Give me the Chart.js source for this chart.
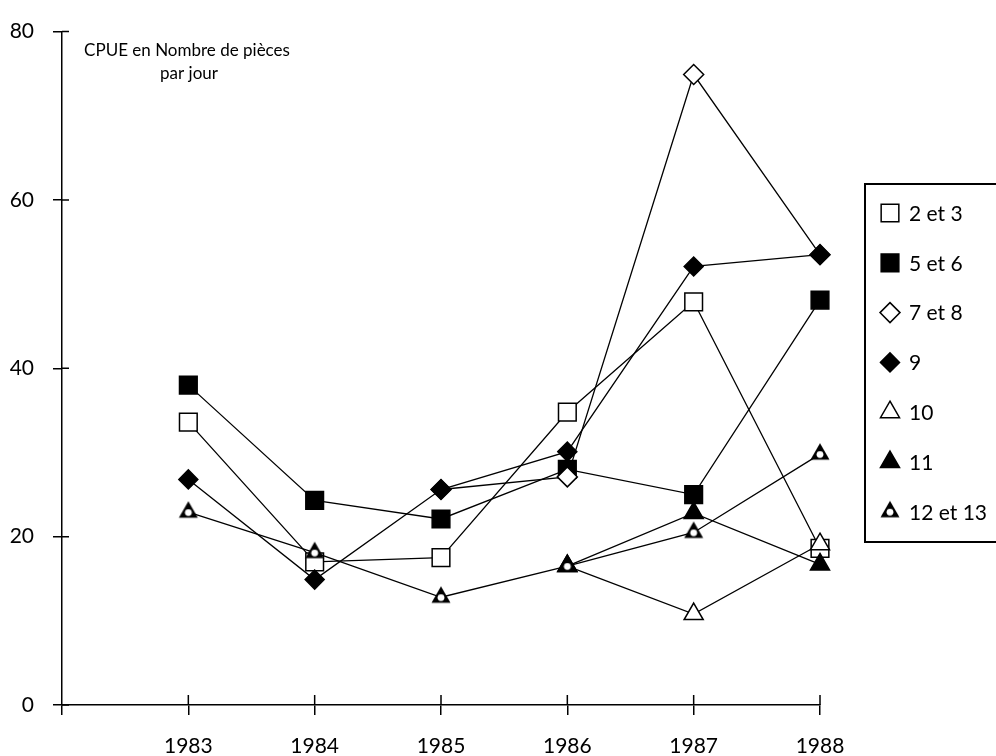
<!DOCTYPE html>
<html>
<head>
<meta charset="utf-8">
<script src="https://cdn.jsdelivr.net/npm/chart.js@4.4.0/dist/chart.umd.min.js"></script>
<style>
  body { margin: 0; background: #fff; }
  canvas { display: block; }
</style>
</head>
<body>
<canvas id="cpue" width="996" height="756"></canvas>
<script>
// CPUE (nombre de pièces par jour) par zone, 1983-1988
const annees = [1983, 1984, 1985, 1986, 1987, 1988];
const zone2et3 = [33.6, 17.0, 17.5, 34.8, 47.9, 18.6];
const zone5et6 = [38.0, 24.3, 22.1, 28.0, 25.0, 48.1];
const zone7et8 = [null, null, 25.6, 27.1, 74.9, 53.5];
const zone9 = [26.8, 14.9, 25.6, 30.1, 52.1, 53.5];
const zone10 = [null, null, null, 16.5, 10.8, 19.1];
const zone11 = [null, null, null, 16.5, 22.8, 16.7];
const zone12et13 = [22.9, 18.1, 12.8, 16.5, 20.5, 29.8];
const yTicks = [0, 20, 40, 60, 80];
const xMin = 1982, xMax = 1988;

const police = 'Lato, "Noto Sans", sans-serif';

// triangle plein avec un point blanc (zones 12 et 13)
function triangleAPoint() {
  let c = document.createElement('canvas');
  c.width = 24; c.height = 24;
  let g = c.getContext('2d');
  g.fillStyle = '#000';
  g.beginPath();
  g.moveTo(12, 1);
  g.lineTo(21.5, 17.5);
  g.lineTo(2.5, 17.5);
  g.closePath();
  g.fill();
  g.fillStyle = '#fff';
  g.beginPath();
  g.arc(12, 12.3, 3.4, 0, Math.PI * 2);
  g.fill();
  return c;
}

function serie(label, valeurs, style, rayon, fond, ordre) {
  return {
    label: label,
    data: annees.map((a, i) => ({ x: a, y: valeurs[i] })),
    borderColor: '#000',
    borderWidth: 1.3,
    pointStyle: style,
    pointRadius: rayon,
    pointHoverRadius: rayon,
    pointBackgroundColor: fond,
    pointBorderColor: '#000',
    pointBorderWidth: 1.5,
    fill: false,
    tension: 0,
    clip: false,
    order: ordre
  };
}

const datasets = [
  serie('2 et 3', zone2et3, 'rect', 12.5, '#fff', 7),
  serie('5 et 6', zone5et6, 'rect', 12.5, '#000', 6),
  serie('7 et 8', zone7et8, 'rectRot', 10, '#fff', 5),
  serie('9', zone9, 'rectRot', 9.5, '#000', 4),
  serie('10', zone10, 'triangle', 11, '#fff', 3),
  serie('11', zone11, 'triangle', 11, '#000', 2),
  serie('12 et 13', zone12et13, triangleAPoint(), 11, '#000', 1)
];

// petits traits vers l'interieur, titre et legende encadree
const habillage = {
  id: 'habillage',
  beforeDatasetsDraw(chart) {
    const { ctx, scales: { x, y } } = chart;
    ctx.save();
    ctx.strokeStyle = '#000';
    ctx.lineWidth = 1.5;
    ctx.beginPath();
    yTicks.forEach(v => {
      let py = y.getPixelForValue(v);
      ctx.moveTo(x.left, py);
      ctx.lineTo(x.left + 7, py);
    });
    annees.forEach(a => {
      let px = x.getPixelForValue(a);
      ctx.moveTo(px, y.bottom);
      ctx.lineTo(px, y.bottom - 10);
    });
    ctx.stroke();

    ctx.fillStyle = '#000';
    ctx.font = '17px ' + police;
    ctx.textAlign = 'center';
    ctx.textBaseline = 'alphabetic';
    ctx.fillText('CPUE en Nombre de pièces', 187, 56);
    ctx.fillText('par jour', 189, 79);
    ctx.restore();
  },
  afterDraw(chart) {
    const ctx = chart.ctx;
    ctx.save();
    ctx.strokeStyle = '#000';
    ctx.lineWidth = 2;
    ctx.strokeRect(865, 184, 200, 358);

    ctx.font = '21px ' + police;
    ctx.textAlign = 'left';
    ctx.textBaseline = 'middle';
    chart.data.datasets.forEach((ds, i) => {
      let yy = 213 + i * 49.8;
      ctx.fillStyle = ds.pointBackgroundColor;
      ctx.strokeStyle = '#000';
      ctx.lineWidth = ds.pointBorderWidth;
      Chart.helpers.drawPoint(ctx, {
        pointStyle: ds.pointStyle,
        radius: ds.pointRadius,
        rotation: 0,
        borderWidth: ds.pointBorderWidth
      }, 890, yy);
      ctx.fillStyle = '#000';
      ctx.fillText(ds.label, 909, yy + 1);
    });
    ctx.restore();
  }
};

new Chart(document.getElementById('cpue'), {
  type: 'line',
  data: { datasets: datasets },
  options: {
    responsive: false,
    animation: false,
    events: [],
    layout: { padding: { top: 24, right: 176, bottom: 0, left: 0 } },
    plugins: {
      legend: { display: false },
      tooltip: { enabled: false }
    },
    scales: {
      x: {
        type: 'linear',
        min: xMin,
        max: xMax,
        afterFit(scale) { scale.height = 51; },
        border: { display: true, color: '#000', width: 1.5 },
        grid: { drawOnChartArea: false, drawTicks: true, tickLength: 10, color: '#000', lineWidth: 1.5 },
        ticks: {
          stepSize: 1,
          padding: 19,
          color: '#000',
          font: { family: police, size: 21 },
          maxRotation: 0,
          callback: v => (v === xMin ? '' : String(v))
        }
      },
      y: {
        min: 0,
        max: 80,
        afterFit(scale) { scale.width = 62; },
        border: { display: true, color: '#000', width: 1.5 },
        grid: { drawOnChartArea: false, drawTicks: true, tickLength: 9, color: '#000', lineWidth: 1.5 },
        ticks: {
          stepSize: 20,
          padding: 19,
          color: '#000',
          font: { family: police, size: 21 },
          callback: v => String(v)
        }
      }
    }
  },
  plugins: [habillage]
});
</script>
</body>
</html>
